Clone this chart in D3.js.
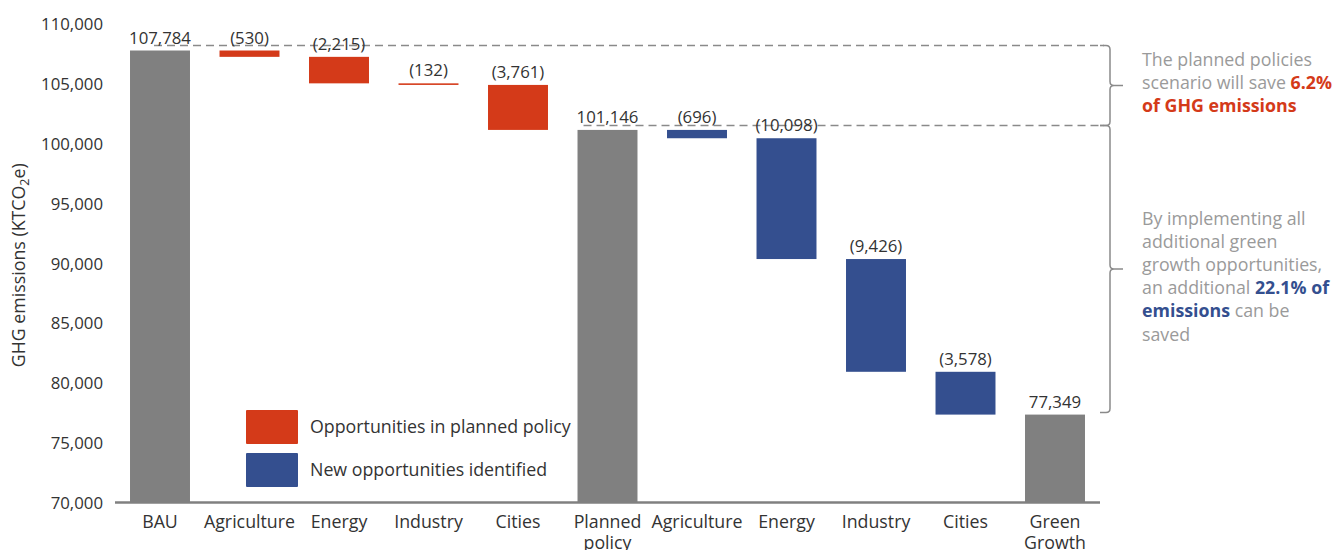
<!DOCTYPE html>
<html>
<head>
<meta charset="utf-8">
<script src="https://cdn.jsdelivr.net/npm/d3@7"></script>
<style>
  html, body { margin: 0; padding: 0; background: #fff; }
  svg { display: block; font-family: "Open Sans", Lato, sans-serif; }
</style>
</head>
<body>
<svg id="chart" width="1341" height="550"></svg>
<script>
// Waterfall of GHG emissions: BAU -> planned policy -> green growth
const categories = ["BAU", "Agriculture", "Energy", "Industry", "Cities", "Planned policy",
                    "Agriculture", "Energy", "Industry", "Cities", "Green Growth"];
const values = [107784, -530, -2215, -132, -3761, 101146, -696, -10098, -9426, -3578, 77349];
const kinds = ["total", "planned", "planned", "planned", "planned", "total",
               "new", "new", "new", "new", "total"];
const yTicks = [70000, 75000, 80000, 85000, 90000, 95000, 100000, 105000, 110000];
const legendItems = [
  { kind: "planned", label: "Opportunities in planned policy" },
  { kind: "new", label: "New opportunities identified" }
];
const savedPlanned = "6.2%";
const savedNew = "22.1%";

const colors = { total: "#808080", planned: "#D43A19", new: "#344F8F" };
const textColor = "#333333";
const noteColor = "#9a9a9a";
const numSize = 16.8;
const wordSize = 17.8;

const svg = d3.select("#chart");

const x = d3.scaleBand()
  .domain(d3.range(categories.length))
  .range([115.25, 1099.75])
  .paddingInner(0.33)
  .paddingOuter(0.165);

const y = d3.scaleLinear().domain([70000, 110000]).range([502.5, 24]);

// running start/end for each step
let running = 0;
const bars = values.map((v, i) => {
  let lo, hi;
  if (kinds[i] === "total") {
    running = v; lo = 70000; hi = v;
  } else {
    hi = running; running = running + v; lo = running;
  }
  return { i, v, kind: kinds[i], lo, hi };
});

// y axis labels (no domain line)
const yAxis = d3.axisLeft(y).tickValues(yTicks).tickSize(0).tickPadding(0)
  .tickFormat(d3.format(","));
const gy = svg.append("g").attr("transform", "translate(103,0)").call(yAxis);
gy.select(".domain").remove();
gy.selectAll("text").attr("font-size", numSize).attr("font-family", "'Open Sans', sans-serif")
  .attr("fill", textColor).attr("dy", "0.35em");

// y axis title
const title = svg.append("text")
  .attr("transform", `translate(25,${(y(70000) + y(110000)) / 2 + 2}) rotate(-90)`)
  .attr("text-anchor", "middle")
  .attr("font-size", wordSize).attr("fill", textColor);
title.append("tspan").text("GHG emissions (KTCO");
title.append("tspan").text("2").attr("font-size", 12.5).attr("dy", 4);
title.append("tspan").text("e)").attr("dy", -4);

// dashed reference lines from each subtotal to the braces
const braceX = 1110;
const lineTop = y(values[0]) - 5;
const lineMid = y(values[5]) - 4.5;
const lineBot = y(values[10]) - 2;
svg.append("line")
  .attr("x1", x(0) + x.bandwidth() / 2 - 6).attr("x2", braceX - 6)
  .attr("y1", lineTop).attr("y2", lineTop)
  .attr("stroke", "#8a8a8a").attr("stroke-width", 1.5).attr("stroke-dasharray", "8,5");
svg.append("line")
  .attr("x1", x(5) + 6).attr("x2", braceX - 6)
  .attr("y1", lineMid).attr("y2", lineMid)
  .attr("stroke", "#8a8a8a").attr("stroke-width", 1.5).attr("stroke-dasharray", "8,5");

// bars
svg.append("g").selectAll("rect").data(bars).join("rect")
  .attr("x", d => x(d.i))
  .attr("width", x.bandwidth())
  .attr("y", d => y(d.hi))
  .attr("height", d => Math.max(1.5, y(d.lo) - y(d.hi)))
  .attr("fill", d => colors[d.kind]);

// value labels
const fmt = d3.format(",");
svg.append("g").selectAll("text").data(bars).join("text")
  .attr("x", d => x(d.i) + x.bandwidth() / 2)
  .attr("y", d => y(d.hi) - 7)
  .attr("text-anchor", "middle")
  .attr("font-size", numSize)
  .attr("fill", textColor)
  .text(d => d.kind === "total" ? fmt(d.v) : `(${fmt(-d.v)})`);

// x axis baseline
svg.append("line")
  .attr("x1", 115).attr("x2", 1100)
  .attr("y1", y(70000)).attr("y2", y(70000))
  .attr("stroke", "#808080").attr("stroke-width", 2.5);

// category labels (two-word totals wrap)
const catG = svg.append("g");
categories.forEach((c, i) => {
  const words = (i === 5 || i === 10) ? c.split(" ") : [c];
  const t = catG.append("text")
    .attr("x", x(i) + x.bandwidth() / 2)
    .attr("y", 527.5)
    .attr("text-anchor", "middle")
    .attr("font-size", wordSize).attr("fill", textColor);
  words.forEach((w, k) => {
    t.append("tspan").attr("x", x(i) + x.bandwidth() / 2).attr("dy", k === 0 ? 0 : 21).text(w);
  });
});

// legend
const lg = svg.append("g");
legendItems.forEach((item, k) => {
  const top = 410 + k * 43;
  lg.append("rect").attr("x", 246).attr("y", top).attr("width", 52).attr("height", 34)
    .attr("rx", 1).attr("fill", colors[item.kind]);
  lg.append("text").attr("x", 310).attr("y", top + 17).attr("dy", "0.35em")
    .attr("font-size", wordSize).attr("fill", textColor).text(item.label);
});

// curly braces on the right
function brace(y0, y1) {
  const m = (y0 + y1) / 2, r = 4;
  return `M${braceX - 10},${y0} H${braceX - r} Q${braceX},${y0} ${braceX},${y0 + r}` +
         ` V${m - r} Q${braceX},${m} ${braceX + r},${m} H${braceX + 13}` +
         ` M${braceX + r},${m} Q${braceX},${m} ${braceX},${m + r}` +
         ` V${y1 - r} Q${braceX},${y1} ${braceX - r},${y1} H${braceX - 10}`;
}
svg.append("path").attr("d", brace(lineTop, lineMid))
  .attr("fill", "none").attr("stroke", "#8a8a8a").attr("stroke-width", 1.5);
svg.append("path").attr("d", brace(lineMid, lineBot))
  .attr("fill", "none").attr("stroke", "#8a8a8a").attr("stroke-width", 1.5);

// notes
function note(lines, top) {
  const t = svg.append("text").attr("font-size", 17.8).attr("fill", noteColor);
  lines.forEach((segs, k) => {
    segs.forEach((s, j) => {
      const sp = t.append("tspan").text(s.t);
      if (j === 0) sp.attr("x", 1142).attr("y", top + k * 23.2);
      if (s.c) sp.attr("fill", colors[s.c]).attr("font-weight", 700);
    });
  });
}
note([
  [{ t: "The planned policies" }],
  [{ t: "scenario will save " }, { t: savedPlanned, c: "planned" }],
  [{ t: "of GHG emissions", c: "planned" }]
], 65.5);
note([
  [{ t: "By implementing all" }],
  [{ t: "additional green" }],
  [{ t: "growth opportunities," }],
  [{ t: "an additional " }, { t: savedNew + " of", c: "new" }],
  [{ t: "emissions", c: "new" }, { t: " can be" }],
  [{ t: "saved" }]
], 224.5);
</script>
</body>
</html>
